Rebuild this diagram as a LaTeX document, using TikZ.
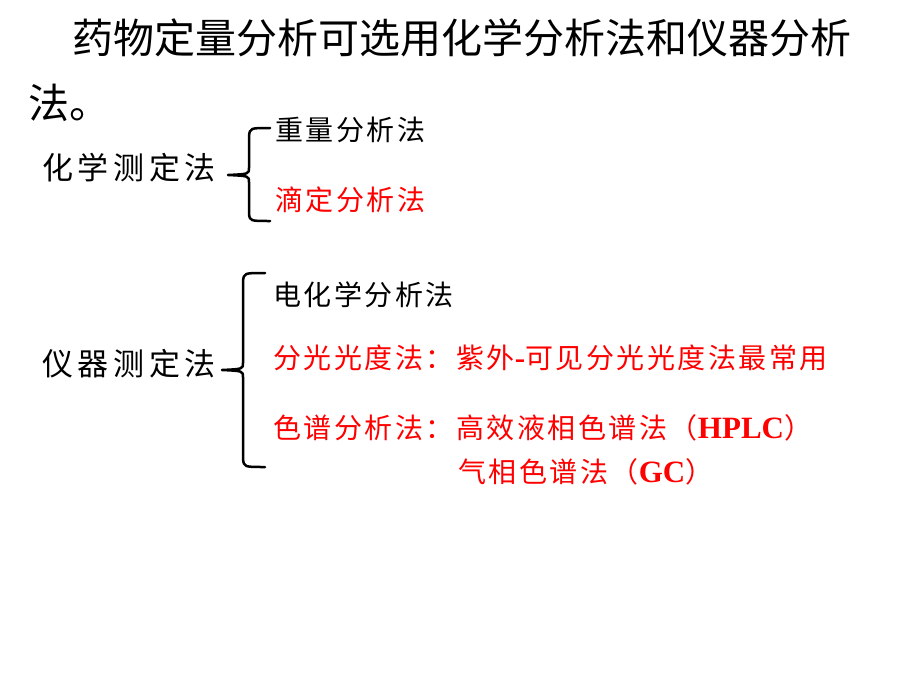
\documentclass[tikz,border=0pt]{standalone}
\usepackage{fontspec}
\newfontfamily\cjktitle{Noto Sans CJK SC}
\newfontfamily\cjkgroup[LetterSpace=15]{Noto Sans CJK SC}
\newfontfamily\cjkitem[LetterSpace=9]{Noto Sans CJK SC}
\newfontfamily\latinbf{Liberation Serif}
\begin{document}
\begin{tikzpicture}[x=1pt,y=-1pt,
    title node/.style={anchor=west,inner sep=0pt,font=\cjktitle\fontsize{41}{41}\selectfont},
    group node/.style={anchor=west,inner sep=0pt,font=\cjkgroup\fontsize{31}{31}\selectfont},
    item node/.style={anchor=west,inner sep=0pt,font=\cjkitem\fontsize{28}{28}\selectfont},
    hot/.style={text=red},
    brace/.style={line width=2.5pt,line cap=round,line join=round}]
                \useasboundingbox (0,0) rectangle (920,690);

                \node[title node] at (72, 38) (t1) {药物定量分析可选用化学分析法和仪器分析};
                \node[title node] at (28, 103) (t2) {法。};

                \node[group node] at (42, 168) (chem) {化学测定法};
                \node[item node] at (275, 130) (grav) {重量分析法};
                \node[item node, hot] at (275, 200) (titr) {滴定分析法};

                \node[group node] at (42, 364) (inst) {仪器测定法};
                \node[item node] at (273, 295) (elec) {电化学分析法};
                \node[item node, hot] at (273, 358) (spec) {分光光度法：紫外{\latinbf\bfseries\fontsize{31}{31}\selectfont -}可见分光光度法最常用};
                \node[item node, hot] at (273, 428) (chrom) {色谱分析法：高效液相色谱法（{\latinbf\bfseries\fontsize{31}{31}\selectfont HPLC}）};
                \node[item node, hot] at (458, 472) (gc) {气相色谱法（{\latinbf\bfseries\fontsize{31}{31}\selectfont GC}）};

                \coordinate (c1) at (228, 175);
                \coordinate (c2) at (222, 370);

                \draw[brace] (270, 128) .. controls (250, 128) .. (249, 136) -- (249, 168)
                    .. controls (249, 174) .. (c1) .. controls (249, 176) .. (249, 182)
                    -- (249, 214) .. controls (250, 221) .. (270, 221);
                \draw[brace] (265, 273) .. controls (244, 273) .. (243, 281) -- (243, 363)
                    .. controls (243, 369) .. (c2) .. controls (243, 371) .. (243, 377)
                    -- (243, 459) .. controls (244, 467) .. (265, 467);
            \end{tikzpicture}
\end{document}
